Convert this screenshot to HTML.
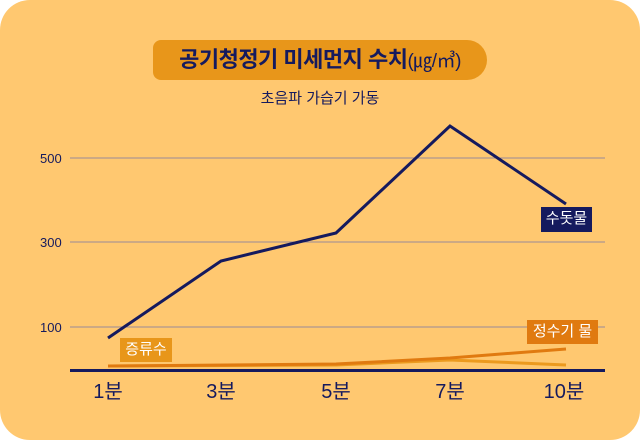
<!DOCTYPE html>
<html><head><meta charset="utf-8"><style>
body{margin:0;background:#fff;}
.wrap{position:relative;width:640px;height:440px;background:#FFC870;border-radius:30px;overflow:hidden;font-family:"Liberation Sans","Noto Sans CJK KR",sans-serif;}
.pill{position:absolute;left:153px;top:40px;width:334px;height:40px;background:#E8961A;border-radius:8px 20px 20px 8px;color:#151a5e;font-size:22px;font-weight:bold;line-height:40px;text-align:center;letter-spacing:-0.5px;}
.sub{position:absolute;left:0;width:640px;top:87px;text-align:center;color:#151a5e;font-size:15px;}
.tag{position:absolute;color:#fff;font-size:15px;line-height:24px;text-align:center;}
</style></head><body><div class="wrap">
<div class="pill">공기청정기 미세먼지 수치<span style="font-weight:normal;font-size:19px">(㎍/㎥)</span></div>
<div class="sub">초음파 가습기 가동</div>
<svg width="640" height="440" style="position:absolute;left:0;top:0">
<g stroke="#9a8a98" stroke-width="1"><line x1="70" y1="158" x2="605" y2="158"/><line x1="70" y1="242" x2="605" y2="242"/><line x1="70" y1="327" x2="605" y2="327"/></g>
<g font-size="13" fill="#151a5e" font-family="Liberation Sans,sans-serif"><text x="40" y="163">500</text><text x="40" y="247">300</text><text x="40" y="332">100</text></g>
<line x1="70" y1="370.5" x2="605" y2="370.5" stroke="#151a5e" stroke-width="3"/>
<polyline points="108,366 336,365 450,360 566,365" fill="none" stroke="#EC9A1E" stroke-width="3"/>
<polyline points="108,366 336,364 450,358 566,349" fill="none" stroke="#E07A10" stroke-width="3"/>
<polyline points="108,338 221,261 336,233 450,126 566,204" fill="none" stroke="#151a5e" stroke-width="3"/>
<g font-size="20" fill="#151a5e" text-anchor="middle" font-family="Liberation Sans,Noto Sans CJK KR,sans-serif"><text x="108" y="398">1분</text><text x="221" y="398">3분</text><text x="336" y="398">5분</text><text x="450" y="398">7분</text><text x="564" y="398">10분</text></g>
</svg>
<div class="tag" style="left:541px;top:207px;width:51px;height:25px;background:#151a5e">수돗물</div>
<div class="tag" style="left:527px;top:320px;width:71px;height:24px;background:#E07A10">정수기 물</div>
<div class="tag" style="left:120px;top:338px;width:52px;height:24px;background:#E8961A">증류수</div>
</div></body></html>
